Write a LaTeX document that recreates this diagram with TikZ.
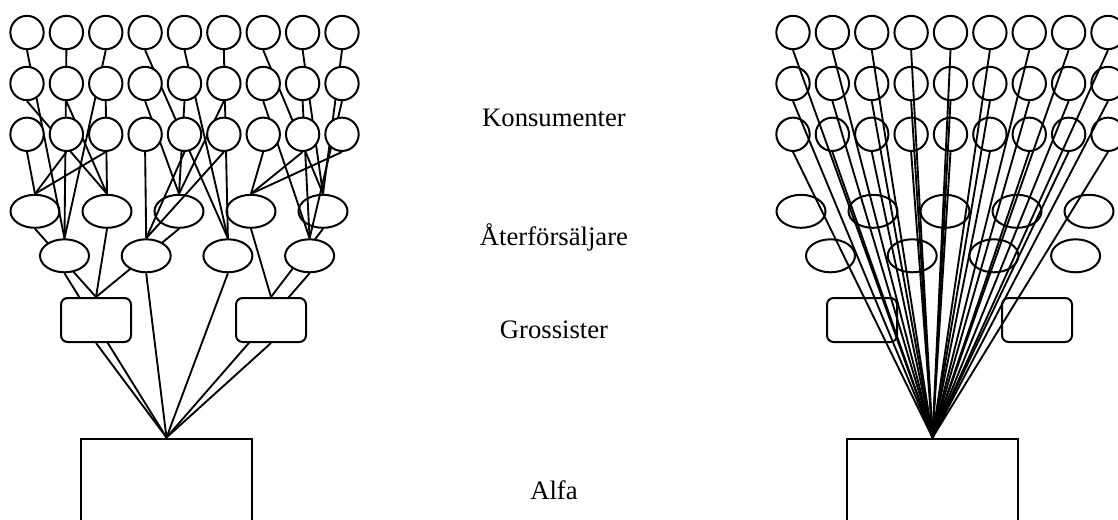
\documentclass[tikz,border=0pt]{standalone}
\usepackage{fontspec}
\setmainfont{Liberation Serif}
\usepackage{tikz}
\usetikzlibrary{shapes.geometric}
\pgfdeclarelayer{bg}
\pgfsetlayers{bg,main}
\tikzstyle{konsument} = [circle, draw=black, line width=1.5pt, fill=white, minimum size=25pt, inner sep=0pt]
\tikzstyle{handlare} = [ellipse, draw=black, line width=1.5pt, minimum width=36.75pt, minimum height=24.75pt, inner sep=0pt]
\tikzstyle{grossist} = [rectangle, rounded corners=5pt, draw=black, line width=1.5pt, fill=white, minimum width=52.5pt, minimum height=33pt, inner sep=0pt]
\tikzstyle{fabrik} = [rectangle, draw=black, line width=1.5pt, fill=white, minimum width=128.25pt, minimum height=90pt, inner sep=0pt, anchor=north]
\tikzstyle{etikett} = [anchor=base, font=\fontsize{20}{24}\selectfont]
\tikzstyle{linje} = [draw=black, line width=1.4pt]

\begin{document}
\begin{tikzpicture}[x=0.75pt, y=-0.75pt]
\useasboundingbox (0,0) rectangle (1118,519);
\clip (0,0) rectangle (1118,519);

% konsumenter
\foreach \r/\y in {1/32.5, 2/83.5, 3/134.3}
  \foreach \c in {1,...,9} {
    \node (k\r\c) [konsument] at ({27+39.375*(\c-1)}, \y) {};
    \node (rk\r\c) [konsument, fill=none] at ({793+39.375*(\c-1)}, \y) {};
  }

% återförsäljare
\foreach \i in {1,...,5} {
  \node (u\i) [handlare] at ({35+72*(\i-1)}, 211.3) {};
  \node (ru\i) [handlare] at ({801+72*(\i-1)}, 211.3) {};
}
\foreach \i in {1,...,4} {
  \node (l\i) [handlare, fill=white] at ({64.5+81.7*(\i-1)}, 255.8) {};
  \node (rl\i) [handlare] at ({830.5+81.7*(\i-1)}, 255.8) {};
}

% grossister och alfa
\node (g1) [grossist] at (96,320) {};
\node (g2) [grossist] at (271,320) {};
\node (rg1) [grossist, fill=none] at (862,320) {};
\node (rg2) [grossist, fill=none] at (1037,320) {};
\node (alfa) [fabrik] at (166.5,437.5) {};
\node (ralfa) [fabrik] at (932.5,437.5) {};

\begin{pgfonlayer}{bg}
\foreach \r/\ha/\hb/\hc in {1/l1/l3/u5, 2/u2/u3/l4, 3/u1/l2/u4} {
  \foreach \c in {1,2,3} \draw [linje] (k\r\c.south) -- (\ha.north);
  \foreach \c in {4,5,6} \draw [linje] (k\r\c.south) -- (\hb.north);
  \foreach \c in {7,8,9} \draw [linje] (k\r\c.south) -- (\hc.north);
}
\foreach \a/\b in {u1/g1, u2/g1, u3/g1, u4/g2, u5/g2, l1/alfa, l2/alfa, l3/alfa, l4/alfa, g1/alfa, g2/alfa}
  \draw [linje] (\a.south) -- (\b.north);
\end{pgfonlayer}

\foreach \r in {1,2,3}
  \foreach \c in {1,...,9}
    \draw [linje] (rk\r\c.south) -- (ralfa.north);

\node (tkons) [etikett] at (554,126) {Konsumenter};
\node (tater) [etikett] at (554,245) {Återförsäljare};
\node (tgross) [etikett] at (554,338) {Grossister};
\node (talfa) [etikett] at (554,499) {Alfa};

\end{tikzpicture}
\end{document}
